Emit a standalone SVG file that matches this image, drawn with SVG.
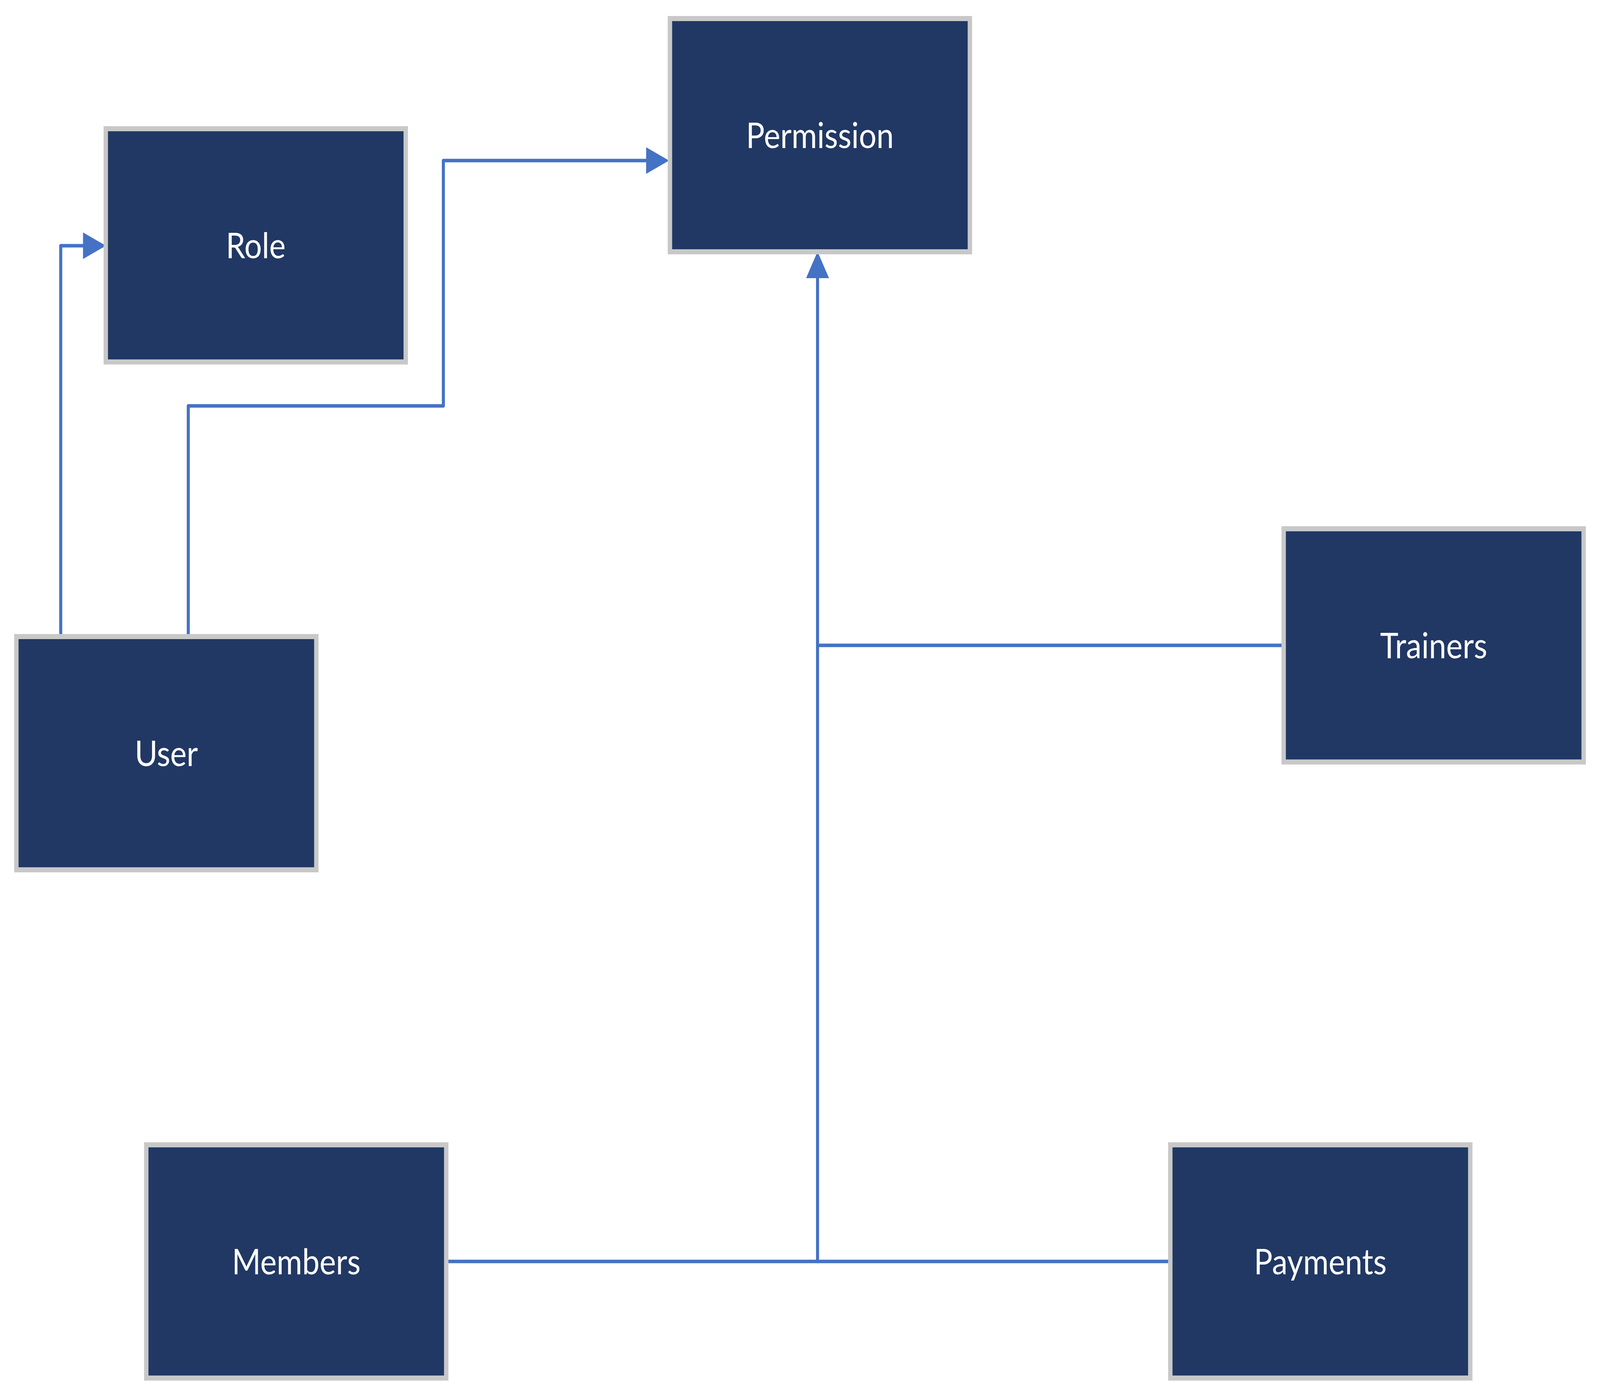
<svg xmlns="http://www.w3.org/2000/svg" width="4742" height="3576" viewBox="0 0 4742 3576" preserveAspectRatio="none">
  <style>
    svg { width: 100%; height: 100%; }
    .box { fill: #213864; stroke: #C8C8C8; stroke-width: 13; }
    .label { fill: #FFFFFF; font-family: Lato, "Open Sans", "Liberation Sans", sans-serif; font-size: 92px; text-anchor: middle; }
    .conn { fill: none; stroke: #4472C4; stroke-width: 9; stroke-linecap: round; stroke-linejoin: round; }
  </style>
  <defs>
    <marker id="arrow" markerUnits="userSpaceOnUse" markerWidth="70" markerHeight="70" refX="0" refY="34" orient="auto" viewBox="0 0 70 70">
      <path d="M0,0 L68,34 L0,68 Z" fill="#4472C4"/>
    </marker>
  </defs>
  <rect x="0" y="0" width="4742" height="3576" fill="#FFFFFF"/>

  <g id="connectors">
    <path class="conn" d="M180,1623 L180,629 L246,629" marker-end="url(#arrow)"/>
    <path class="conn" d="M558,1623 L558,1039 L1314,1039 L1314,411 L1915,411" marker-end="url(#arrow)"/>
    <path class="conn" d="M2423,3229 L2423,712" marker-end="url(#arrow)"/>
    <path class="conn" d="M3798,1652 L2423,1652"/>
    <path class="conn" d="M1322,3229 L2423,3229"/>
    <path class="conn" d="M2423,3229 L3462,3229"/>
  </g>

  <g id="node-permission">
    <rect class="box" x="1985.5" y="47.5" width="889" height="597"/>
    <text class="label" x="2430" y="379">Permission</text>
  </g>
  <g id="node-role">
    <rect class="box" x="313.5" y="329.5" width="889" height="597"/>
    <text class="label" x="758" y="661">Role</text>
  </g>
  <g id="node-user">
    <rect class="box" x="48.5" y="1629.5" width="889" height="597"/>
    <text class="label" x="493" y="1961">User</text>
  </g>
  <g id="node-trainers">
    <rect class="box" x="3804.5" y="1353.5" width="889" height="597"/>
    <text class="label" x="4249" y="1685">Trainers</text>
  </g>
  <g id="node-members">
    <rect class="box" x="433.5" y="2930.5" width="889" height="597"/>
    <text class="label" x="878" y="3262">Members</text>
  </g>
  <g id="node-payments">
    <rect class="box" x="3468.5" y="2930.5" width="889" height="597"/>
    <text class="label" x="3913" y="3262">Payments</text>
  </g>
</svg>
